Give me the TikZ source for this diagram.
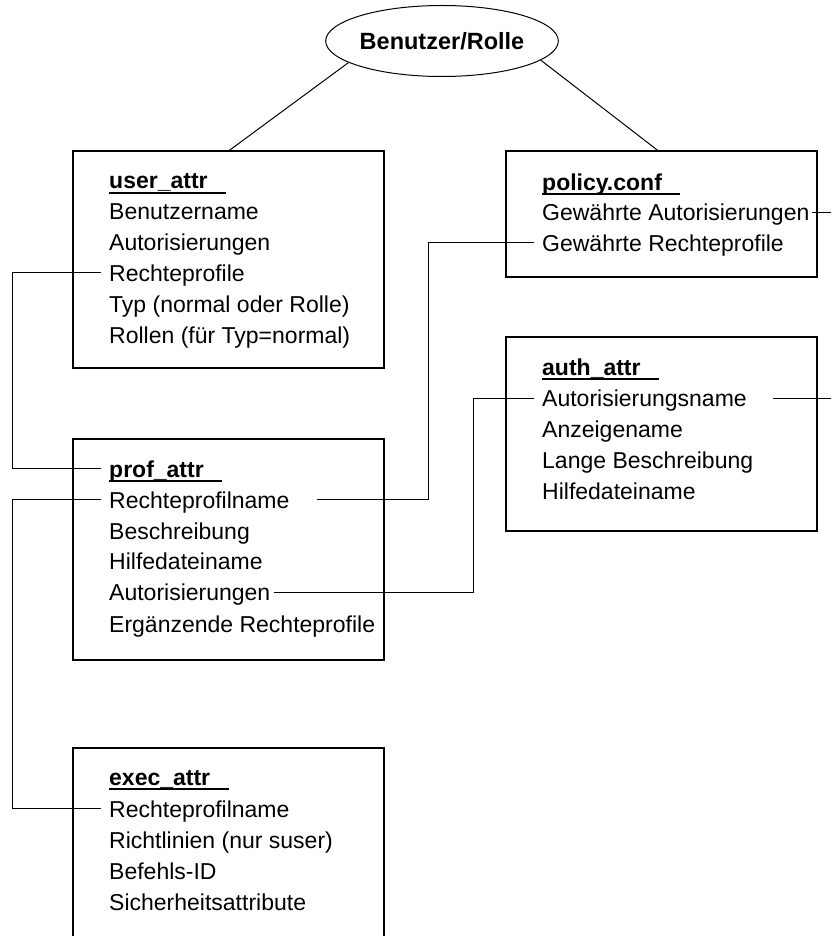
\documentclass[tikz,border=0pt]{standalone}
\usepackage{fontspec}
\setmainfont{Liberation Sans}
\usetikzlibrary{shapes.geometric}

\newsavebox\tabbox
\newcommand{\tabname}[1]{\sbox\tabbox{\bfseries #1\hspace{.8em}}\rlap{\rule[-5.3pt]{\wd\tabbox}{2pt}}\usebox\tabbox}

\tikzset{
	relbox/.style={draw,line width=1.3pt,anchor=north west,minimum width=311pt,inner sep=0pt,outer sep=0pt},
	attr/.style={anchor=base west,inner xsep=8pt,inner ysep=0pt,text height=17pt,text depth=0pt},
	link/.style={line width=1pt},
}

\begin{document}
\begin{tikzpicture}[x=1pt,y=-1pt,font=\fontsize{23}{27}\selectfont]
			\useasboundingbox (0,0) rectangle (831,936);
			\clip (0,0) rectangle (831,936);

			\draw (442,41) node (role)[draw,ellipse,minimum width=221pt,minimum height=71pt,inner sep=0pt,line width=1pt,font=\fontsize{23.5}{28}\selectfont\bfseries]{Benutzer/Rolle};

			% user_attr
			\draw (73,151) node (ubox)[relbox,minimum height=217pt]{};
			\draw (ubox.north west) ++(28,38) node (u0)[attr]{\tabname{user\_attr}};
			\draw (ubox.north west) ++(28,68.8) node (u1)[attr]{Benutzername};
			\draw (ubox.north west) ++(28,99.6) node (u2)[attr]{Autorisierungen};
			\draw (ubox.north west) ++(28,130.4) node (u3)[attr]{Rechteprofile};
			\draw (ubox.north west) ++(28,161.2) node (u4)[attr]{Typ (normal oder Rolle)};
			\draw (ubox.north west) ++(28,192) node (u5)[attr]{Rollen (für Typ=normal)};

			% policy.conf
			\draw (506,151) node (pbox)[relbox,minimum height=126pt]{};
			\draw (pbox.north west) ++(28,39) node (p0)[attr]{\tabname{policy.conf}};
			\draw (pbox.north west) ++(28,69.7) node (p1)[attr]{Gewährte Autorisierungen};
			\draw (pbox.north west) ++(28,100) node (p2)[attr]{Gewährte Rechteprofile};

			% auth_attr
			\draw (506,337) node (abox)[relbox,minimum height=194pt]{};
			\draw (abox.north west) ++(28,38) node (a0)[attr]{\tabname{auth\_attr}};
			\draw (abox.north west) ++(28,69.7) node (a1)[attr]{Autorisierungsname};
			\draw (abox.north west) ++(28,100) node (a2)[attr]{Anzeigename};
			\draw (abox.north west) ++(28,131) node (a3)[attr]{Lange Beschreibung};
			\draw (abox.north west) ++(28,162) node (a4)[attr]{Hilfedateiname};

			% prof_attr
			\draw (73,439) node (rbox)[relbox,minimum height=221pt]{};
			\draw (rbox.north west) ++(28,38) node (r0)[attr]{\tabname{prof\_attr}};
			\draw (rbox.north west) ++(28,69) node (r1)[attr]{Rechteprofilname};
			\draw (rbox.north west) ++(28,100) node (r2)[attr]{Beschreibung};
			\draw (rbox.north west) ++(28,130.5) node (r3)[attr]{Hilfedateiname};
			\draw (rbox.north west) ++(28,161.5) node (r4)[attr]{Autorisierungen};
			\draw (rbox.north west) ++(28,193) node (r5)[attr]{Ergänzende Rechteprofile};

			% exec_attr
			\draw (73,748) node (ebox)[relbox,minimum height=200pt]{};
			\draw (ebox.north west) ++(28,37) node (e0)[attr]{\tabname{exec\_attr}};
			\draw (ebox.north west) ++(28,69) node (e1)[attr]{Rechteprofilname};
			\draw (ebox.north west) ++(28,100) node (e2)[attr]{Richtlinien (nur suser)};
			\draw (ebox.north west) ++(28,131) node (e3)[attr]{Befehls-ID};
			\draw (ebox.north west) ++(28,162) node (e4)[attr]{Sicherheitsattribute};

			\draw[link] (role.193)--(ubox.north);
			\draw[link] (role.349)--([xshift=-3pt]pbox.north);
			\draw[link] (u3.west)--++(-89,0)|-(r0.west);
			\draw[link] (r1.west)--++(-89,0)|-(e1.west);
			\draw[link] (p2.west)--++(-106,0)|-([xshift=19pt]r1.east);
			\draw[link] (a1.west)--++(-61,0)|-([xshift=-4.5pt]r4.east);
			\draw[link] ([xshift=-6pt]p1.east)--++(60,0);
			\draw[link] ([xshift=18pt]a1.east)--++(90,0);
		\end{tikzpicture}
\end{document}
